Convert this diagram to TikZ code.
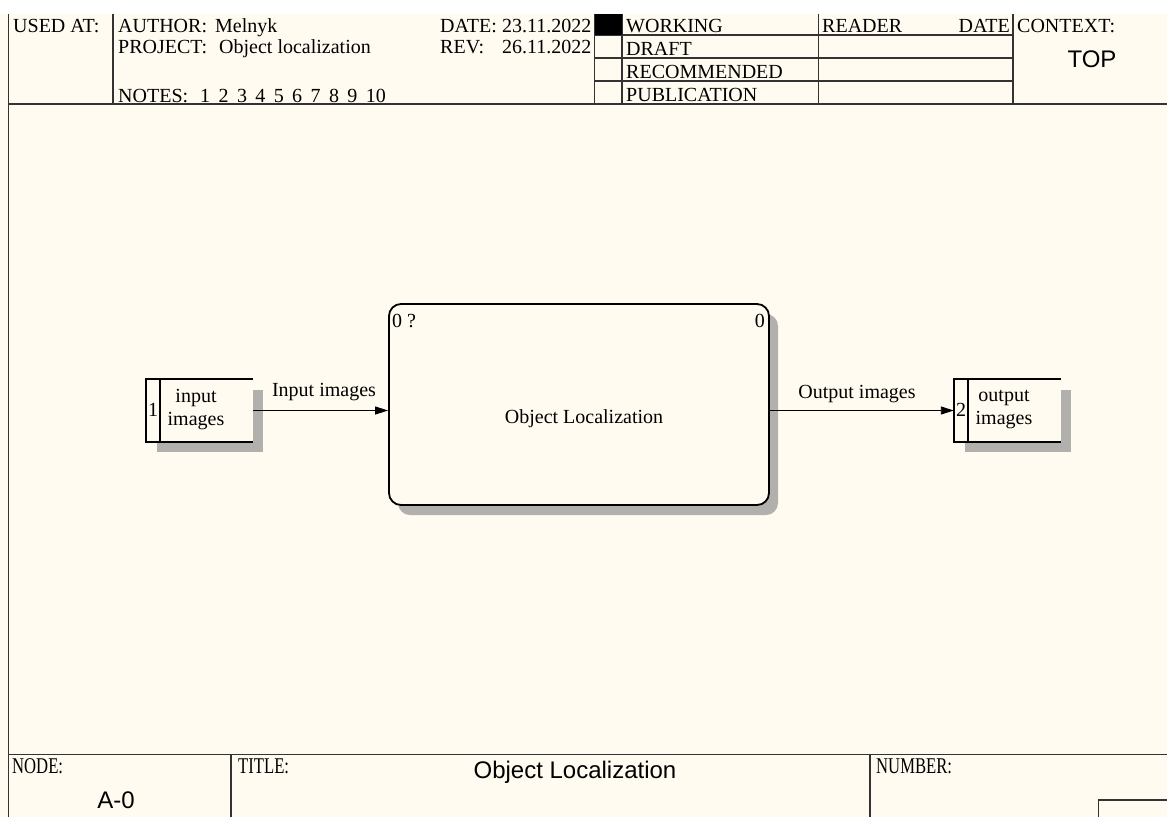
\documentclass[tikz,border=0pt]{standalone}
\usepackage{fontspec}
\setmainfont{Liberation Serif}
\newfontfamily\arialf{Liberation Sans}
\usetikzlibrary{arrows.meta}
\definecolor{cream}{RGB}{255,251,240}
\definecolor{shadowc}{RGB}{178,176,172}
\begin{document}
\begin{tikzpicture}[x=1pt,y=-1pt,
  frame/.style={line width=1.3pt, draw=black!80},
  txt/.style={inner sep=0pt, font=\fontsize{20}{23}\selectfont, anchor=base west},
  ftxt/.style={inner sep=0pt, font=\fontsize{22.5}{24}\selectfont, anchor=base west},
  sans/.style={inner sep=0pt, font=\arialf\fontsize{24}{28}\selectfont},
  boxline/.style={line width=1.8pt, draw=black},
  conn/.style={line width=0.9pt, draw=black, -{Triangle[length=13pt,width=8pt]}},
  shadow/.style={fill=shadowc}
]
\useasboundingbox (0,0) rectangle (1167,817);
\fill[white] (0,0) rectangle (1167,14);
\fill[cream] (0,14) rectangle (1167,817);

% ---------- header frame ----------
\draw[frame] (8.5,14) -- (8.5,817);
\draw[frame] (8.5,104) -- (1167,104);
\draw[frame] (113,14) -- (113,104);
\draw[frame] (594.5,14) -- (594.5,104);
\draw[frame] (622,14) -- (622,104);
\draw[frame] (818.5,14) -- (818.5,104);
\draw[frame] (1013,14) -- (1013,104);
\draw[frame] (594.5,35) -- (1013,35);
\draw[frame] (594.5,58) -- (1013,58);
\draw[frame] (594.5,81) -- (1013,81);
\fill[black] (594.5,14) rectangle (622,35);

% ---------- header texts ----------
\node[txt] (usedat) at (13,32) {USED AT:};
\node[txt] (author) at (118,32) {AUTHOR:};
\node[txt] (melnyk) at (215,32) {Melnyk};
\node[txt] (project) at (118,53) {PROJECT:};
\node[txt] (projname) at (219,53) {Object localization};
\node[txt] (notes) at (118,102) {NOTES:};
\foreach \i in {1,...,10}{
  \node[txt] (note\i) at ({200+18.4*(\i-1)},102) {\i};
}
\node[txt] (date) at (440,32) {DATE:};
\node[txt] (dateval) at (502,32) {23.11.2022};
\node[txt] (rev) at (440,53) {REV:};
\node[txt] (revval) at (502,53) {26.11.2022};
\node[txt] (working) at (626,32) {WORKING};
\node[txt] (draft) at (626,55) {DRAFT};
\node[txt] (recommended) at (626,78) {RECOMMENDED};
\node[txt] (publication) at (626,101) {PUBLICATION};
\node[txt] (reader) at (822,32) {READER};
\node[txt, anchor=base east] (rdate) at (1010,32) {DATE};
\node[txt] (context) at (1017,32) {CONTEXT:};
\node[sans] (top) at (1092,59) {TOP};

% ---------- footer ----------
\draw[frame] (8.5,754.5) -- (1167,754.5);
\draw[frame] (231,754.5) -- (231,817);
\draw[frame] (870,754.5) -- (870,817);
\draw[frame] (1167,800) -- (1098.5,800) -- (1098.5,817);
\node[ftxt] (nodelbl) at (12,773) {\scalebox{0.74}[1]{NODE:}};
\node[ftxt] (titlelbl) at (238,773) {\scalebox{0.74}[1]{TITLE:}};
\node[ftxt] (numberlbl) at (876,773) {\scalebox{0.74}[1]{NUMBER:}};
\node[sans] (nodeval) at (116,800) {A-0};
\node[sans] (titleval) at (575,772) {Object Localization};

% ---------- main activity box ----------
\fill[shadow, rounded corners=12pt] (398,314) rectangle (778,515);
\node[boxline, fill=cream, rounded corners=12pt, minimum width=380pt,
      minimum height=201pt, inner sep=0pt] (box) at (579,404.5) {};
\node[txt] (boxid) at (392,327) {0 ?};
\node[txt, anchor=base east] (boxnum) at (765,327) {0};
\node[txt, anchor=base] (boxlabel) at (584,423) {Object Localization};

% ---------- external entity 1 ----------
\node[minimum width=107pt, minimum height=63pt, inner sep=0pt] (ext1) at (199.5,410.5) {};
\fill[shadow] (ext1.north east) ++(0,11) rectangle ++(10,62);
\fill[shadow] (ext1.south west) ++(11,0) rectangle ++(106,10);
\fill[cream] (ext1.south west) rectangle (ext1.north east);
\draw[boxline] (ext1.north east) -- (ext1.north west) -- (ext1.south west) -- (ext1.south east);
\draw[boxline] ([xshift=14pt]ext1.north west) -- ([xshift=14pt]ext1.south west);
\node[txt, anchor=center] (ext1id) at (153,410) {1};
\node[inner sep=0pt, font=\fontsize{20}{23}\selectfont, align=center] (ext1txt) at (196,410) {input\\images};

% ---------- external entity 2 ----------
\node[minimum width=107pt, minimum height=63pt, inner sep=0pt] (ext2) at (1007.5,410.5) {};
\fill[shadow] (ext2.north east) ++(0,11) rectangle ++(10,62);
\fill[shadow] (ext2.south west) ++(11,0) rectangle ++(106,10);
\fill[cream] (ext2.south west) rectangle (ext2.north east);
\draw[boxline] (ext2.north east) -- (ext2.north west) -- (ext2.south west) -- (ext2.south east);
\draw[boxline] ([xshift=14.5pt]ext2.north west) -- ([xshift=14.5pt]ext2.south west);
\node[txt, anchor=center] (ext2id) at (961,410) {2};
\node[inner sep=0pt, font=\fontsize{20}{23}\selectfont, align=center] (ext2txt) at (1004,410) {output\\images};

% ---------- connectors ----------
\draw[conn] (ext1.east) -- (ext1.east -| box.west);
\node[txt, anchor=base] (inlbl) at (324,396) {Input images};
\draw[conn] (box.east |- ext2.west) -- (ext2.west);
\node[txt, anchor=base] (outlbl) at (857,398) {Output images};
\end{tikzpicture}
\end{document}
